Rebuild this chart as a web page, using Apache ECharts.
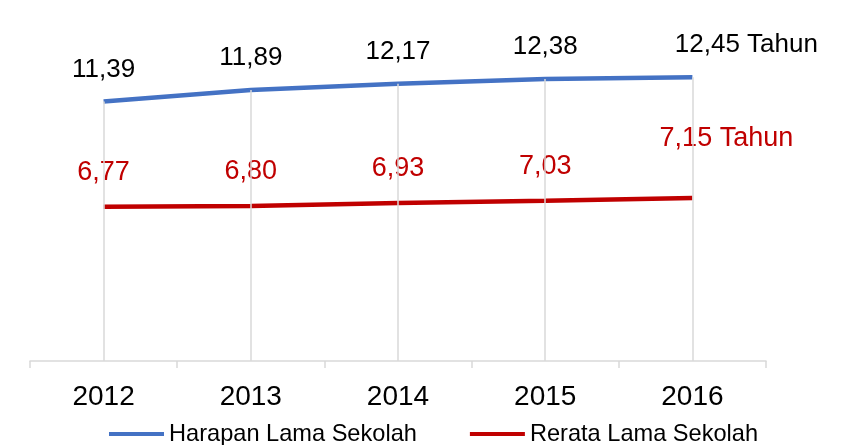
<!DOCTYPE html>
<html><head><meta charset="utf-8">
<script src="https://cdn.jsdelivr.net/npm/echarts@6/dist/echarts.min.js"></script>
<style>html,body{margin:0;padding:0;background:#fff}#c{width:854px;height:445px}</style>
</head><body><div id="c"></div>
<script>
const years = ['2012','2013','2014','2015','2016'];
const harapan = [11.39, 11.89, 12.17, 12.38, 12.45];
const rerata = [6.77, 6.80, 6.93, 7.03, 7.15];
const seriesNames = ['Harapan Lama Sekolah', 'Rerata Lama Sekolah'];
const unit = 'Tahun';

const FONT = '"Liberation Sans", Arial, sans-serif';
const fmt = v => v.toFixed(2).replace('.', ',');
const last = years.length - 1;

const chart = echarts.init(document.getElementById('c'));
chart.setOption({
  animation: false,
  textStyle: { fontFamily: FONT },
  grid: { left: 30, right: 88, top: 42, bottom: 84 },
  legend: {
    data: seriesNames,
    bottom: -6,
    left: 104,
    icon: 'rect',
    itemWidth: 55,
    itemHeight: 4,
    itemGap: 53,
    textStyle: { fontSize: 23.6, color: '#000', fontFamily: FONT }
  },
  xAxis: {
    type: 'category',
    data: years,
    boundaryGap: true,
    axisLine: { lineStyle: { color: '#D9D9D9', width: 1.5 } },
    axisTick: { show: true, length: 7, lineStyle: { color: '#D9D9D9', width: 1.5 } },
    axisLabel: { fontSize: 28, color: '#000', margin: 22, fontFamily: FONT },
    splitLine: { show: false }
  },
  yAxis: { type: 'value', min: 0, max: 14, show: false, splitLine: { show: false } },
  series: [
    {
      name: 'drop', type: 'line', data: [], z: 1, silent: true,
      markLine: {
        silent: true, symbol: 'none', animation: false,
        label: { show: false },
        lineStyle: { color: '#D9D9D9', width: 1.5, type: 'solid' },
        data: years.map((y, i) => [{ coord: [i, harapan[i]] }, { coord: [i, 0] }])
      }
    },
    {
      name: seriesNames[0], type: 'line', z: 3,
      data: harapan.map((v, i) => ({
        value: v,
        label: i === last ? { formatter: p => fmt(p.value) + ' ' + unit, offset: [54, 0] } : {}
      })),
      symbol: 'circle', symbolSize: 0.1, showSymbol: true,
      lineStyle: { color: '#4472C4', width: 4.5 },
      itemStyle: { color: '#4472C4' },
      label: { show: true, position: 'top', distance: 19, fontSize: 26, color: '#000', fontFamily: FONT, formatter: p => fmt(p.value) }
    },
    {
      name: seriesNames[1], type: 'line', z: 3,
      data: rerata.map((v, i) => ({
        value: v,
        label: i === last ? { formatter: p => fmt(p.value) + ' ' + unit, offset: [34, -25] } : {}
      })),
      symbol: 'circle', symbolSize: 0.1, showSymbol: true,
      lineStyle: { color: '#C00000', width: 4.5 },
      itemStyle: { color: '#C00000' },
      label: { show: true, position: 'top', distance: 21, fontSize: 27, color: '#C00000', fontFamily: FONT, formatter: p => fmt(p.value) }
    }
  ]
});
</script></body></html>
